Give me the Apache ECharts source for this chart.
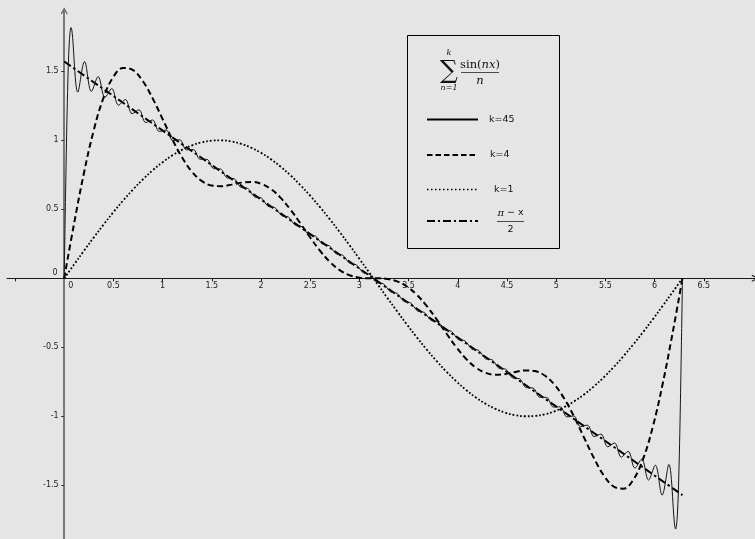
<!DOCTYPE html>
<html>
<head>
<meta charset="utf-8">
<script src="https://cdn.jsdelivr.net/npm/echarts@6/dist/echarts.min.js"></script>
<style>
html,body{margin:0;padding:0;background:#e5e5e5;}
#chart{width:755px;height:539px;}
</style>
</head>
<body>
<div id="chart"></div>
<script>
// ---- tick labels ----
const xLabelValues = [0, 0.5, 1, 1.5, 2, 2.5, 3, 3.5, 4, 4.5, 5, 5.5, 6, 6.5];
const xTickValues = [-0.5, 0.5, 1, 1.5, 2, 2.5, 3, 3.5, 4, 4.5, 5, 5.5, 6, 6.5];
const yLabelValues = [-1.5, -1, -0.5, 0, 0.5, 1, 1.5];
const yTickValues = [-1.5, -1, -0.5, 0.5, 1, 1.5];

// ---- k = 1 and k = 4 curves ----
const xsSmooth = [0, 0.1, 0.2, 0.3, 0.4, 0.5, 0.6, 0.7, 0.8, 0.9, 1.0, 1.1, 1.2, 1.3, 1.4, 1.5,
  1.6, 1.7, 1.8, 1.9, 2.0, 2.1, 2.2, 2.3, 2.4, 2.5, 2.6, 2.7, 2.8, 2.9, 3.0, 3.1, 3.1416,
  3.1832, 3.2832, 3.3832, 3.4832, 3.5832, 3.6832, 3.7832, 3.8832, 3.9832, 4.0832, 4.1832,
  4.2832, 4.3832, 4.4832, 4.5832, 4.6832, 4.7832, 4.8832, 4.9832, 5.0832, 5.1832, 5.2832,
  5.3832, 5.4832, 5.5832, 5.6832, 5.7832, 5.8832, 5.9832, 6.0832, 6.1832, 6.2832];

const k1Values = [0, 0.0998, 0.1987, 0.2955, 0.3894, 0.4794, 0.5646, 0.6442, 0.7174, 0.7833,
  0.8415, 0.8912, 0.9320, 0.9636, 0.9854, 0.9975, 0.9996, 0.9917, 0.9738, 0.9463, 0.9093,
  0.8632, 0.8085, 0.7457, 0.6755, 0.5985, 0.5155, 0.4274, 0.3350, 0.2392, 0.1411, 0.0416, 0,
  -0.0416, -0.1411, -0.2392, -0.3350, -0.4274, -0.5155, -0.5985, -0.6755, -0.7457, -0.8085,
  -0.8632, -0.9093, -0.9463, -0.9738, -0.9917, -0.9996, -0.9975, -0.9854, -0.9636, -0.9320,
  -0.8912, -0.8415, -0.7833, -0.7174, -0.6442, -0.5646, -0.4794, -0.3894, -0.2955, -0.1987,
  -0.0998, 0];

const k4Values = [0, 0.3950, 0.7609, 1.0720, 1.3087, 1.4600, 1.5242, 1.5084, 1.4277, 1.3021,
  1.1540, 1.0050, 0.8732, 0.7712, 0.7046, 0.6724, 0.6675, 0.6788, 0.6934, 0.6988, 0.6851,
  0.6467, 0.5828, 0.4973, 0.3984, 0.2957, 0.1997, 0.1191, 0.0594, 0.0222, 0.0046, 0.0001, 0,
  -0.0001, -0.0046, -0.0222, -0.0594, -0.1191, -0.1997, -0.2957, -0.3984, -0.4973, -0.5828,
  -0.6467, -0.6851, -0.6988, -0.6934, -0.6788, -0.6675, -0.6724, -0.7046, -0.7712, -0.8732,
  -1.0050, -1.1540, -1.3021, -1.4277, -1.5084, -1.5242, -1.4600, -1.3087, -1.0720, -0.7609,
  -0.3950, 0];

// ---- k = 45 curve (turning points) ----
const xsK45 = [0, 0.0173, 0.0345, 0.0518, 0.0690, 0.1381, 0.2071, 0.2762, 0.3452, 0.4143,
  0.4833, 0.5524, 0.6214, 0.6905, 0.7595, 0.8286, 0.8976, 0.9666, 1.0357, 1.1047, 1.1738,
  1.2428, 1.3119, 1.3809, 1.4500, 1.5190, 1.5881, 1.6571, 1.7262, 1.7952, 1.8642, 1.9333,
  2.0023, 2.0714, 2.1404, 2.2095, 2.2785, 2.3476, 2.4166, 2.4857, 2.5547, 2.6237, 2.6928,
  2.7618, 2.8309, 2.8999, 2.9690, 3.0380, 3.1071, 3.1761, 3.2452, 3.3142, 3.3833, 3.4523,
  3.5214, 3.5904, 3.6595, 3.7285, 3.7975, 3.8666, 3.9356, 4.0047, 4.0737, 4.1428, 4.2118,
  4.2809, 4.3499, 4.4190, 4.4880, 4.5570, 4.6261, 4.6951, 4.7642, 4.8332, 4.9023, 4.9713,
  5.0404, 5.1094, 5.1785, 5.2475, 5.3166, 5.3856, 5.4546, 5.5237, 5.5927, 5.6618, 5.7308,
  5.7999, 5.8689, 5.9380, 6.0070, 6.0761, 6.1451, 6.2142, 6.2314, 6.2487, 6.2659, 6.2832];

const k45Values = [0, 0.750, 1.354, 1.714, 1.817, 1.349, 1.571, 1.354, 1.462, 1.311,
  1.375, 1.254, 1.296, 1.193, 1.221, 1.129, 1.147, 1.064, 1.075, 0.998, 1.004,
  0.931, 0.933, 0.863, 0.862, 0.795, 0.792, 0.727, 0.722, 0.659, 0.652, 0.591,
  0.583, 0.522, 0.513, 0.454, 0.444, 0.385, 0.374, 0.316, 0.305, 0.248, 0.236,
  0.179, 0.167, 0.110, 0.097, 0.041, 0.028, -0.028, -0.041, -0.097, -0.110, -0.167,
  -0.179, -0.236, -0.248, -0.305, -0.316, -0.374, -0.385, -0.444, -0.454, -0.513, -0.522,
  -0.583, -0.591, -0.652, -0.659, -0.722, -0.727, -0.792, -0.795, -0.862, -0.863, -0.933,
  -0.931, -1.004, -0.998, -1.075, -1.064, -1.147, -1.129, -1.221, -1.193, -1.296, -1.254,
  -1.375, -1.311, -1.462, -1.354, -1.571, -1.349, -1.817, -1.714, -1.354, -0.750, 0];

// ---- (pi - x)/2 line ----
const lineXs = [0, 6.2832];
const lineValues = [1.5708, -1.5708];

function zip(xs, ys) { return xs.map((x, i) => [x, ys[i]]); }

const chart = echarts.init(document.getElementById('chart'), null, {renderer: 'canvas'});
const bg = '#e5e5e5';
const arrowPath = 'path://M5,0 L10,9 L8.8,10 L5,3.2 L1.2,10 L0,9 Z';
const labelFont = 'DejaVu Sans';
const serif = 'DejaVu Serif';
const tickLabelStyle = {fontSize: 8, color: '#222', fontFamily: labelFont, opacity: 1};

// tick labels drawn at the axis crossing through the library's scales
const xLabelData = xLabelValues.map(v => v === 0
  ? {value: [v, 0], label: {offset: [6.5, 0]}}
  : {value: [v, 0]});
const yLabelData = yLabelValues.map(v => v === 0
  ? {value: [0, v], label: {offset: [-1, -5]}}
  : {value: [0, v]});

const option = {
  backgroundColor: bg,
  animation: false,
  grid: {left: 7, right: 0, top: 11, bottom: 0, containLabel: false, outerBoundsMode: 'none'},
  xAxis: {
    type: 'value', min: -0.5813, max: 7.0203,
    axisLine: {onZero: true, lineStyle: {color: '#1a1a1a', width: 1.2},
      symbol: ['none', arrowPath], symbolSize: [7, 9]},
    axisTick: {show: true, inside: false, length: 3, customValues: xTickValues,
      lineStyle: {color: '#1a1a1a', width: 1}},
    axisLabel: {show: false},
    splitLine: {show: false}
  },
  yAxis: {
    type: 'value', min: -1.889, max: 1.937,
    axisLine: {onZero: true, lineStyle: {color: '#555', width: 1.5},
      symbol: ['none', arrowPath], symbolSize: [7, 9]},
    axisTick: {show: true, inside: false, length: 3, customValues: yTickValues,
      lineStyle: {color: '#333', width: 1}},
    axisLabel: {show: false},
    splitLine: {show: false}
  },
  series: [
    {name: 'k=1', type: 'line', data: zip(xsSmooth, k1Values), smooth: 0.4,
      symbol: 'none', showSymbol: false, z: 3,
      lineStyle: {color: '#000', width: 1.8, type: [1.8, 2]}},
    {name: 'k=4', type: 'line', data: zip(xsSmooth, k4Values), smooth: 0.4,
      symbol: 'none', showSymbol: false, z: 3,
      lineStyle: {color: '#000', width: 2, type: [6, 3.5]}},
    {name: '(pi-x)/2', type: 'line', data: zip(lineXs, lineValues),
      symbol: 'none', showSymbol: false, z: 3,
      lineStyle: {color: '#000', width: 2, type: [8, 3, 2.5, 3]}},
    {name: 'k=45', type: 'line', data: zip(xsK45, k45Values), smooth: 0.36,
      symbol: 'none', showSymbol: false, z: 4,
      lineStyle: {color: '#151515', width: 1}},
    {name: 'xLabels', type: 'scatter', data: xLabelData, symbol: 'circle', symbolSize: 1,
      itemStyle: {color: 'rgba(0,0,0,0)'}, silent: true, z: 5,
      label: Object.assign({show: true, position: 'bottom', distance: 3.5,
        formatter: p => String(p.value[0])}, tickLabelStyle)},
    {name: 'yLabels', type: 'scatter', data: yLabelData, symbol: 'circle', symbolSize: 1,
      itemStyle: {color: 'rgba(0,0,0,0)'}, silent: true, z: 5,
      label: Object.assign({show: true, position: 'left', distance: 5,
        formatter: p => String(p.value[1])}, tickLabelStyle)}
  ],
  graphic: [
    {type: 'rect', z: 10, shape: {x: 407.5, y: 35.5, width: 152, height: 213},
      style: {fill: bg, stroke: '#000', lineWidth: 1}},
    // formula
    {type: 'text', z: 11, style: {text: '\u2211', x: 449, y: 71, align: 'center', verticalAlign: 'middle',
      font: '25px ' + serif, fill: '#111'}},
    {type: 'text', z: 11, style: {text: 'k', x: 449, y: 53, align: 'center', verticalAlign: 'middle',
      font: 'italic 8px ' + serif, fill: '#111'}},
    {type: 'text', z: 11, style: {text: 'n=1', x: 449, y: 88, align: 'center', verticalAlign: 'middle',
      font: 'italic 8px ' + serif, fill: '#111'}},
    {type: 'text', z: 11, style: {text: '{u|sin(}{i|nx}{u|)}', x: 480, y: 65, align: 'center', verticalAlign: 'middle',
      rich: {u: {font: '11.5px ' + serif, fill: '#111'}, i: {font: 'italic 11.5px ' + serif, fill: '#111'}}}},
    {type: 'line', z: 11, shape: {x1: 461, y1: 72.5, x2: 499, y2: 72.5}, style: {stroke: '#222', lineWidth: 0.8}},
    {type: 'text', z: 11, style: {text: 'n', x: 480, y: 81, align: 'center', verticalAlign: 'middle',
      font: 'italic 11.5px ' + serif, fill: '#111'}},
    // legend samples
    {type: 'line', z: 11, shape: {x1: 427, y1: 119.5, x2: 478, y2: 119.5}, style: {stroke: '#000', lineWidth: 2}},
    {type: 'text', z: 11, style: {text: 'k=45', x: 489, y: 120, align: 'left', verticalAlign: 'middle',
      font: '9.5px ' + labelFont, fill: '#111'}},
    {type: 'line', z: 11, shape: {x1: 427, y1: 155, x2: 478, y2: 155}, style: {stroke: '#000', lineWidth: 2, lineDash: [5.5, 3]}},
    {type: 'text', z: 11, style: {text: 'k=4', x: 490, y: 155, align: 'left', verticalAlign: 'middle',
      font: '9.5px ' + labelFont, fill: '#111'}},
    {type: 'line', z: 11, shape: {x1: 427, y1: 189.5, x2: 478, y2: 189.5}, style: {stroke: '#000', lineWidth: 1.5, lineDash: [1.5, 2.5]}},
    {type: 'text', z: 11, style: {text: 'k=1', x: 494, y: 190, align: 'left', verticalAlign: 'middle',
      font: '9.5px ' + labelFont, fill: '#111'}},
    {type: 'line', z: 11, shape: {x1: 427, y1: 221, x2: 478, y2: 221}, style: {stroke: '#000', lineWidth: 2, lineDash: [8, 3, 2, 3]}},
    {type: 'text', z: 11, style: {text: '{p|\u03c0}{s| \u2212 x}', x: 510.5, y: 213, align: 'center', verticalAlign: 'middle',
      rich: {p: {font: 'italic 10px ' + serif, fill: '#111'}, s: {font: '9.5px ' + labelFont, fill: '#111'}}}},
    {type: 'line', z: 11, shape: {x1: 497, y1: 221.5, x2: 524, y2: 221.5}, style: {stroke: '#222', lineWidth: 0.8}},
    {type: 'text', z: 11, style: {text: '2', x: 510.5, y: 230, align: 'center', verticalAlign: 'middle',
      font: '9.5px ' + labelFont, fill: '#111'}}
  ]
};
chart.setOption(option);
</script>
</body>
</html>
